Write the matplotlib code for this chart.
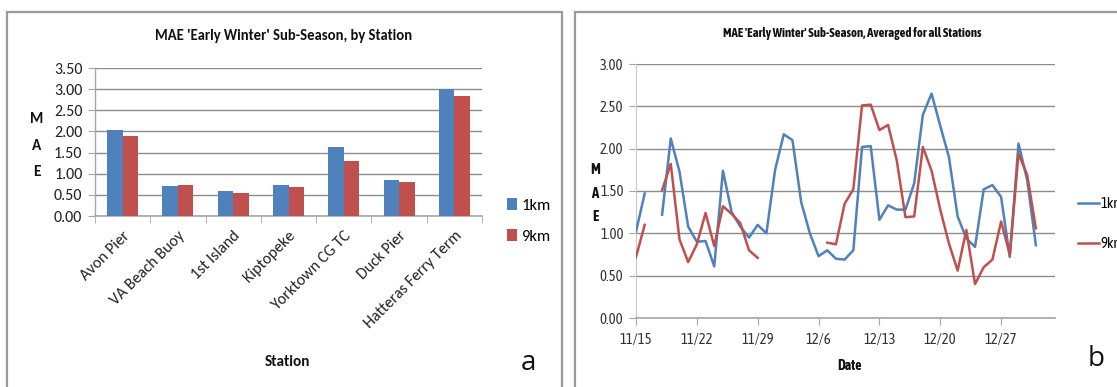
import numpy as np
import pandas as pd
import matplotlib
matplotlib.use("Agg")
import matplotlib.pyplot as plt
from matplotlib.patches import Rectangle

# ---------------- data ----------------
stations = ["Avon Pier", "VA Beach Buoy", "1st Island", "Kiptopeke",
            "Yorktown CG TC", "Duck Pier", "Hatteras Ferry Term"]
mae_1km_station = [2.04, 0.71, 0.59, 0.73, 1.62, 0.85, 3.01]
mae_9km_station = [1.90, 0.73, 0.55, 0.69, 1.29, 0.81, 2.83]
bar_yticks = [0.0, 0.5, 1.0, 1.5, 2.0, 2.5, 3.0, 3.5]

start_date = "2010-11-15"
n_days = 47
nan = np.nan
mae_1km_daily = [1.02, 1.47, nan, 1.22, 2.12, 1.73, 1.08, 0.90, 0.91, 0.61,
                 1.74, 1.25, 1.08, 0.95, 1.10, 1.00, 1.75, 2.17, 2.10, 1.37,
                 1.00, 0.73, 0.80, 0.70, 0.69, 0.80, 2.02, 2.03, 1.16, 1.33,
                 1.28, 1.28, 1.59, 2.40, 2.65, 2.27, 1.90, 1.20, 0.94, 0.84,
                 1.52, 1.57, 1.43, 0.72, 2.06, 1.63, 0.86]
mae_9km_daily = [0.72, 1.10, nan, 1.51, 1.82, 0.93, 0.66, 0.87, 1.24, 0.85,
                 1.32, 1.23, 1.12, 0.80, 0.71, nan, nan, nan, nan, nan,
                 nan, nan, 0.89, 0.87, 1.35, 1.52, 2.51, 2.52, 2.22, 2.28,
                 1.86, 1.19, 1.20, 2.02, 1.74, 1.28, 0.88, 0.56, 1.04, 0.40,
                 0.60, 0.69, 1.14, 0.75, 1.94, 1.69, 1.06]
line_yticks = [0.0, 0.5, 1.0, 1.5, 2.0, 2.5, 3.0]
series_labels = ["1km", "9km"]

dates = pd.date_range(start_date, periods=n_days, freq="D")

# ---------------- style ----------------
BLUE = "#4F81BD"
RED = "#C0504D"
GRID = "#8C8C8C"
AXC = "#A6A6A6"
W, H = 1117, 387
CAL = ["Carlito", "DejaVu Sans"]
NARROW = ["Asap Condensed", "Archivo Narrow", "DejaVu Sans"]
plt.rcParams["font.family"] = CAL


def fx(px):
    return px / W


def fy(py):
    return 1 - py / H


fig = plt.figure(figsize=(W / 100, H / 100), dpi=100)
fig.patch.set_facecolor("white")

# panel borders
fig.add_artist(Rectangle((fx(7), fy(400)), fx(562) - fx(7), fy(12) - fy(400),
                         transform=fig.transFigure, fill=False,
                         edgecolor="#9A9A9A", lw=1.6))
fig.add_artist(Rectangle((fx(575), fy(400)), fx(1125) - fx(575), fy(12) - fy(400),
                         transform=fig.transFigure, fill=False,
                         edgecolor="#9A9A9A", lw=1.6))

# ---------------- panel a: bars ----------------
axa = fig.add_axes([fx(95), fy(216), fx(482) - fx(95), fy(68) - fy(216)])
x = np.arange(len(stations))
bw = 0.28
axa.bar(x - bw / 2, mae_1km_station, bw, color=BLUE, label=series_labels[0], zorder=3)
axa.bar(x + bw / 2, mae_9km_station, bw, color=RED, label=series_labels[1], zorder=3)
axa.set_xlim(-0.5, len(stations) - 0.5)
axa.set_ylim(0, 3.5)
axa.set_yticks(bar_yticks)
axa.set_yticklabels([f"{v:.2f}" for v in bar_yticks], fontsize=11.5, color="#222222")
axa.yaxis.grid(True, color=GRID, lw=1.0, zorder=0)
axa.set_xticks(x)
axa.set_xticklabels(stations, rotation=45, ha="right", rotation_mode="anchor",
                    fontsize=11.5, color="#222222")
axa.set_xticks(np.arange(-0.5, len(stations), 1.0), minor=True)
axa.tick_params(axis="x", which="major", length=0, pad=9)
axa.tick_params(axis="x", which="minor", length=5, color=AXC, direction="out")
axa.tick_params(axis="y", length=5, color=AXC, direction="out", pad=4)
for s in ["top", "right"]:
    axa.spines[s].set_visible(False)
axa.spines["left"].set_color(AXC)
axa.spines["bottom"].set_color(AXC)
axa.spines["left"].set_linewidth(1.0)
axa.spines["bottom"].set_linewidth(1.2)
axa.set_facecolor("white")

fig.text(fx(284), fy(36), "MAE 'Early Winter' Sub-Season, by Station",
         ha="center", va="center", fontsize=10.5, fontweight="bold", color="#111111")
for i, ch in enumerate("MAE"):
    fig.text(fx(37), fy(119 + i * 26.5), ch, ha="center", va="center",
             fontsize=11, fontweight="bold", color="#111111")
fig.text(fx(287), fy(362), "Station", ha="center", va="center",
         fontsize=11, fontweight="bold", color="#111111")
fig.text(fx(528), fy(363), "a", ha="center", va="center", fontsize=20,
         color="#111111", family=["Open Sans", "DejaVu Sans"])
fig.legend(*axa.get_legend_handles_labels(), loc="center left",
           bbox_to_anchor=(fx(499), fy(221)), bbox_transform=fig.transFigure,
           frameon=False, fontsize=12, handlelength=0.6, handleheight=0.7,
           handletextpad=0.25, labelspacing=1.0, borderpad=0)

# ---------------- panel b: lines ----------------
axb = fig.add_axes([fx(636), fy(318), fx(1055) - fx(636), fy(64) - fy(318)])
axb.plot(dates, mae_1km_daily, color=BLUE, lw=1.8, label=series_labels[0], zorder=3)
axb.plot(dates, mae_9km_daily, color=RED, lw=1.8, label=series_labels[1], zorder=3)
axb.set_xlim(dates[0], dates[0] + pd.Timedelta(days=48.2))
axb.set_ylim(0, 3.0)
axb.set_yticks(line_yticks)
axb.set_yticklabels([f"{v:.2f}" for v in line_yticks], fontsize=10.5,
                    color="#333333", family=NARROW)
axb.yaxis.grid(True, color=GRID, lw=1.0, zorder=0)
tick_dates = pd.date_range(start_date, periods=7, freq="7D")
axb.set_xticks(tick_dates)
axb.set_xticklabels([f"{d.month}/{d.day}" for d in tick_dates], fontsize=10.5,
                    color="#333333", family=NARROW)
axb.tick_params(axis="x", length=5, color=AXC, direction="out", pad=6)
axb.tick_params(axis="y", length=5, color=AXC, direction="out", pad=4)
for s in ["top", "right"]:
    axb.spines[s].set_visible(False)
axb.spines["left"].set_color("#C8C8C8")
axb.spines["bottom"].set_color(AXC)
axb.spines["bottom"].set_linewidth(1.2)

fig.text(fx(852), fy(34), "MAE 'Early Winter' Sub-Season, Averaged for all Stations",
         ha="center", va="center", fontsize=9.2, fontweight="bold",
         color="#111111", family=NARROW)
for i, ch in enumerate("MAE"):
    fig.text(fx(595), fy(170 + i * 23.5), ch, ha="center", va="center",
             fontsize=10.5, fontweight="bold", color="#111111", family=NARROW)
fig.text(fx(850), fy(366), "Date", ha="center", va="center",
         fontsize=10, fontweight="bold", color="#111111", family=NARROW)
fig.text(fx(1096), fy(359), "b", ha="center", va="center", fontsize=20,
         color="#111111", family=["Open Sans", "DejaVu Sans"])
fig.legend(*axb.get_legend_handles_labels(), loc="center left",
           bbox_to_anchor=(fx(1071), fy(224)), bbox_transform=fig.transFigure,
           frameon=False, prop={"family": NARROW, "size": 10.5},
           handlelength=1.4, handletextpad=0.1, labelspacing=1.8, borderpad=0)

fig.savefig("out.png", dpi=100, facecolor="white")
